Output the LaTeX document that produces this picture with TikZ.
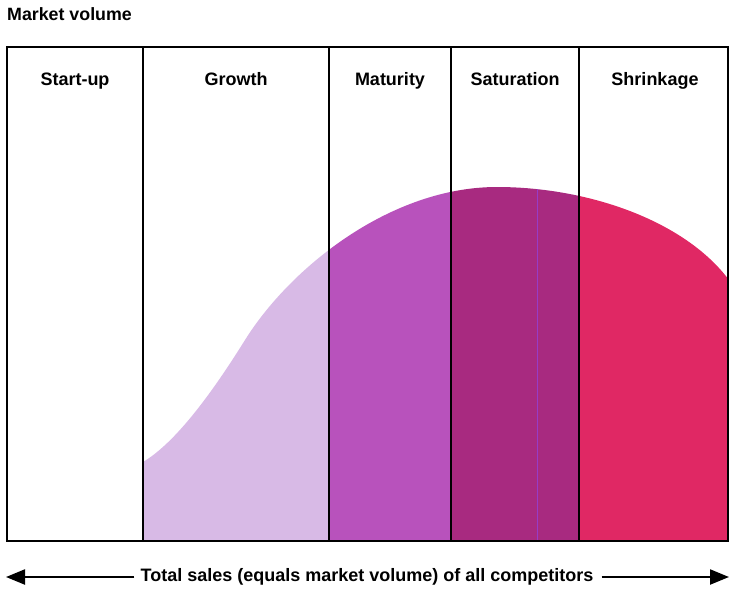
\documentclass[tikz,border=0pt]{standalone}
\usepackage{fontspec}
\setmainfont{Liberation Sans}
\usetikzlibrary{arrows.meta}
\definecolor{growthc}{RGB}{216,186,230}
\definecolor{maturityc}{RGB}{184,82,188}
\definecolor{saturationc}{RGB}{168,42,128}
\definecolor{shrinkc}{RGB}{224,40,100}
\definecolor{streakc}{RGB}{150,60,200}
\newcommand{\mkcurvepath}{(143,462) .. controls (180,440) and (220,380) .. (245,340) .. controls (290,268) and (390,187) .. (497,187) .. controls (587,187) and (684,220) .. (729,280) -- (729,541) -- (143,541) -- cycle}
\tikzset{
  frameline/.style={line width=2pt, black},
  header/.style={font=\bfseries\fontsize{18}{21}\selectfont, inner sep=0pt, anchor=base},
  axisarrow/.style={line width=2.2pt, -{Triangle[length=19pt,width=15pt]}},
}
\begin{document}
\begin{tikzpicture}[x=1pt,y=-1pt]
\useasboundingbox (0,0) rectangle (729,590);
% fills
\begin{scope}\clip (143,0) rectangle (329,541); \fill[growthc] \mkcurvepath;\end{scope}
\begin{scope}\clip (329,0) rectangle (451,541); \fill[maturityc] \mkcurvepath;\end{scope}
\begin{scope}\clip (451,0) rectangle (579,541); \fill[saturationc] \mkcurvepath;
  \clip \mkcurvepath;
  \draw[streakc, line width=0.8pt] (537,180) -- (537,541);
\end{scope}
\begin{scope}\clip (579,0) rectangle (729,541); \fill[shrinkc] \mkcurvepath;\end{scope}
% frame
\draw[frameline] (7,47) rectangle (728,541);
\foreach \xx in {143,329,451,579} \draw[frameline] (\xx,47) -- (\xx,541);
% texts
\node[font=\bfseries\fontsize{17.8}{20}\selectfont, anchor=base west, inner sep=0pt] (title) at (7,20.5) {Market volume};
\node[header] (startup) at (75,85.5) {Start-up};
\node[header] (growth) at (236,85.5) {Growth};
\node[header] (maturity) at (390,85.5) {Maturity};
\node[header] (saturation) at (515,85.5) {Saturation};
\node[header] (shrinkage) at (655,85.5) {Shrinkage};
\node[font=\bfseries\fontsize{18}{21}\selectfont, inner sep=0pt] (total) at (367,577) {Total sales (equals market volume) of all competitors};
\coordinate (leftend) at (6,577);
\coordinate (rightend) at (729,577);
\draw[axisarrow] ([xshift=-6pt]total.west) -- (leftend);
\draw[axisarrow] ([xshift=8pt]total.east) -- (rightend);
\end{tikzpicture}
\end{document}
